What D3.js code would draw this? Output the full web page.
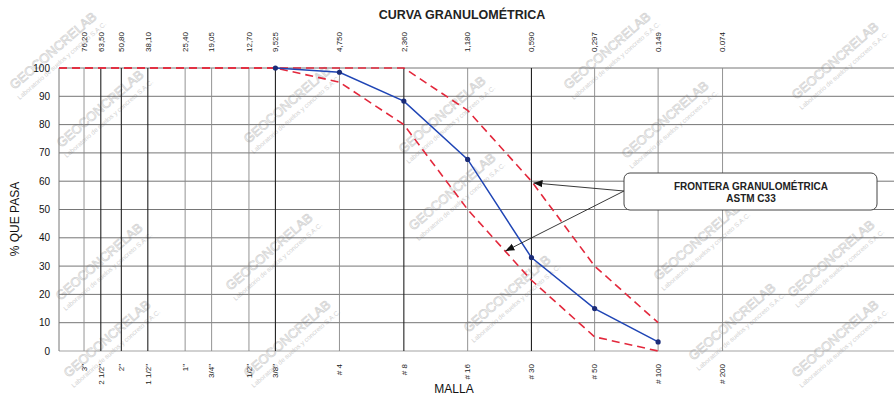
<!DOCTYPE html>
<meta charset="utf-8">
<script src="https://cdn.jsdelivr.net/npm/d3@7"></script>
<style>
  body { margin: 0; background: #fff; }
  text { font-family: "Liberation Sans", Arial, sans-serif; }
</style>
<div id="chart"></div>
<script>
// sieve openings (mm) and their labels
const sieveSizes = [76.2, 63.5, 50.8, 38.1, 25.4, 19.05, 12.7, 9.525, 4.75, 2.36, 1.18, 0.59, 0.297, 0.149, 0.074];
const sizeLabels = ["76,20", "63,50", "50,80", "38,10", "25,40", "19,05", "12,70", "9,525", "4,750", "2,360", "1,180", "0,590", "0,297", "0.149", "0.074"];
const sieveNames = ['3"', '2 1/2"', '2"', '1 1/2"', '1"', '3/4"', '1/2"', '3/8"', "# 4", "# 8", "# 16", "# 30", "# 50", "# 100", "# 200"];

// sample curve
const sampleSizes = [9.525, 4.75, 2.36, 1.18, 0.59, 0.297, 0.149];
const samplePass = [100, 98.5, 88.3, 67.7, 33, 15, 3.2];

// ASTM C33 limits
const limitSizes = [100, 9.525, 4.75, 2.36, 1.18, 0.59, 0.297, 0.149];
const lowerLimit = [100, 100, 95, 80, 50, 25, 5, 0];
const upperLimit = [100, 100, 100, 100, 85, 60, 30, 10];

const yTicks = [0, 10, 20, 30, 40, 50, 60, 70, 80, 90, 100];

// arrow targets for the note (size mm, % passing)
const noteTargets = [[0.577, 59.4], [0.783, 35.3]];

const W = 894, H = 399;
const pLeft = 59, pTop = 68, pBottom = 351;

const svg = d3.select("#chart").append("svg")
  .attr("width", W).attr("height", H);

const x = d3.scaleLog().domain([100, 0.01]).range([pLeft, pLeft + 63.8 * Math.log2(10000)]);
const y = d3.scaleLinear().domain([0, 100]).range([pBottom, pTop]);

// watermark
const marks = [[56, 54], [103, 112], [290, 108], [445, 118], [610, 54], [668, 123], [838, 64],
  [102, 265], [272, 255], [455, 195], [510, 297], [700, 245], [735, 325], [290, 342],
  [110, 342], [838, 342], [834, 262]];
const wm = svg.append("g");
marks.forEach(function(m) {
  const g = wm.append("g").attr("transform", "translate(" + m[0] + "," + m[1] + ") rotate(-41)");
  g.append("text").attr("text-anchor", "middle").attr("font-size", 13)
    .attr("fill", "none").attr("stroke", "#d2d2d2").attr("stroke-width", 0.7)
    .text("GEOCONCRELAB");
  g.append("text").attr("text-anchor", "middle").attr("y", 11).attr("font-size", 6.5)
    .attr("fill", "#d2d2d2").text("Laboratorio de suelos y concreto S.A.C.");
});

// horizontal grid
svg.append("g").selectAll("line").data(yTicks).join("line")
  .attr("x1", pLeft).attr("x2", W)
  .attr("y1", d => y(d)).attr("y2", d => y(d))
  .attr("stroke", d => d === 0 ? "#999" : "#666").attr("stroke-width", 0.9);

// vertical lines
const heavy = [63.5, 50.8, 38.1, 9.525, 2.36, 0.59];
svg.append("line").attr("x1", pLeft).attr("x2", pLeft).attr("y1", pTop).attr("y2", pBottom)
  .attr("stroke", "#777");
svg.append("g").selectAll("line").data(sieveSizes).join("line")
  .attr("x1", d => x(d)).attr("x2", d => x(d))
  .attr("y1", pTop).attr("y2", pBottom)
  .attr("stroke", d => heavy.includes(d) ? "#222" : "#888")
  .attr("stroke-width", d => heavy.includes(d) ? 1.1 : 0.9);

// y axis labels
svg.append("g").selectAll("text").data(yTicks).join("text")
  .attr("x", 50).attr("y", d => y(d)).attr("dy", "0.35em")
  .attr("text-anchor", "end").attr("font-size", 10).attr("fill", "#111")
  .text(d => d);

// top size labels
svg.append("g").selectAll("text").data(sieveSizes).join("text")
  .attr("transform", d => "translate(" + x(d) + ",52) rotate(-90)")
  .attr("dy", "0.35em").attr("font-size", 8).attr("fill", "#222")
  .text((d, i) => sizeLabels[i]);

// bottom sieve names
svg.append("g").selectAll("text").data(sieveSizes).join("text")
  .attr("transform", d => "translate(" + x(d) + ",364) rotate(-90)")
  .attr("text-anchor", "end").attr("dy", "0.35em").attr("font-size", 8).attr("fill", "#222")
  .text((d, i) => sieveNames[i]);

// titles
svg.append("text").attr("x", 462).attr("y", 19).attr("text-anchor", "middle")
  .attr("font-size", 12.5).attr("font-weight", "bold").attr("fill", "#222")
  .text("CURVA GRANULOMÉTRICA");
svg.append("text").attr("x", 454).attr("y", 393).attr("text-anchor", "middle")
  .attr("font-size", 12).attr("fill", "#111").text("MALLA");
svg.append("text").attr("transform", "translate(19,219) rotate(-90)")
  .attr("text-anchor", "middle").attr("font-size", 12).attr("fill", "#111")
  .text("% QUE PASA");

// limit curves
const limLine = d3.line().x(d => x(d[0])).y(d => y(d[1]));
[lowerLimit, upperLimit].forEach(function(lim) {
  svg.append("path")
    .datum(limitSizes.map((s, i) => [s, lim[i]]))
    .attr("d", limLine)
    .attr("fill", "none").attr("stroke", "#e3283c").attr("stroke-width", 1.6)
    .attr("stroke-dasharray", "8,5");
});

// sample curve
const sample = sampleSizes.map((s, i) => [s, samplePass[i]]);
svg.append("path").datum(sample).attr("d", limLine)
  .attr("fill", "none").attr("stroke", "#1f45b5").attr("stroke-width", 1.5);
svg.append("g").selectAll("circle").data(sample).join("circle")
  .attr("cx", d => x(d[0])).attr("cy", d => y(d[1])).attr("r", 2.6)
  .attr("fill", "#1b2c78");

// note box with arrows
svg.append("defs").append("marker").attr("id", "arr")
  .attr("viewBox", "0 0 10 10").attr("refX", 10).attr("refY", 5)
  .attr("markerWidth", 9).attr("markerHeight", 9).attr("orient", "auto")
  .attr("markerUnits", "userSpaceOnUse")
  .append("path").attr("d", "M0,1 L10,5 L0,9 Z").attr("fill", "#111");

svg.append("g").selectAll("line").data(noteTargets).join("line")
  .attr("x1", 624).attr("y1", 191)
  .attr("x2", d => x(d[0])).attr("y2", d => y(d[1]))
  .attr("stroke", "#222").attr("stroke-width", 0.9)
  .attr("marker-end", "url(#arr)");

svg.append("rect").attr("x", 624).attr("y", 173).attr("width", 253).attr("height", 37)
  .attr("rx", 6).attr("fill", "#fff").attr("stroke", "#444").attr("stroke-width", 1);
svg.append("text").attr("x", 751).attr("y", 190).attr("text-anchor", "middle")
  .attr("font-size", 10).attr("font-weight", "bold").attr("fill", "#222")
  .text("FRONTERA GRANULOMÉTRICA");
svg.append("text").attr("x", 751).attr("y", 202).attr("text-anchor", "middle")
  .attr("font-size", 10).attr("font-weight", "bold").attr("fill", "#222")
  .text("ASTM C33");
</script>
